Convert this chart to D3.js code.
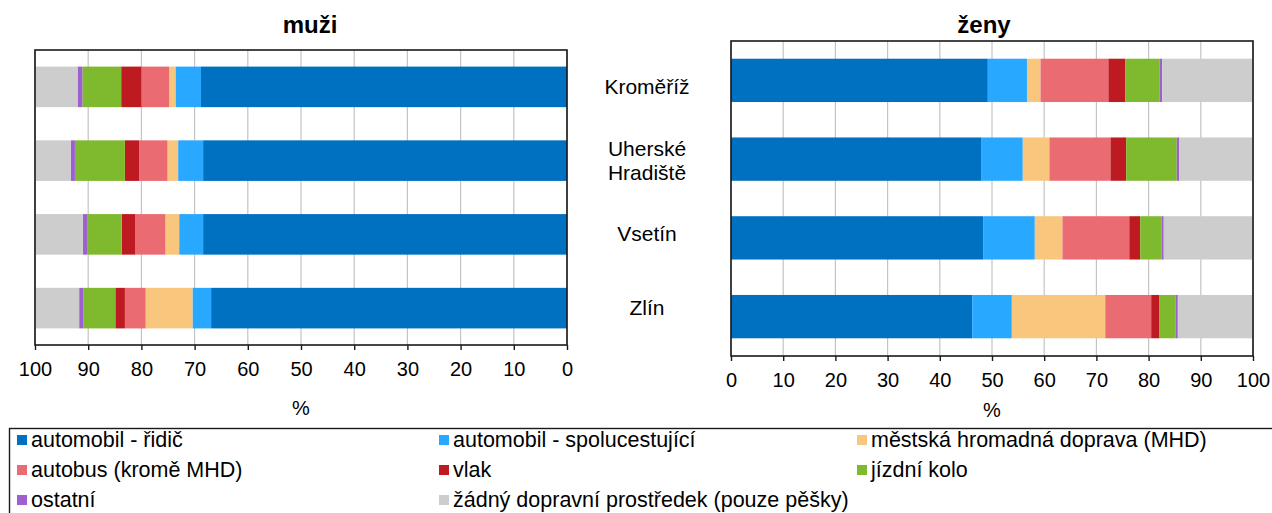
<!DOCTYPE html>
<html>
<head>
<meta charset="utf-8">
<script src="https://cdn.jsdelivr.net/npm/d3@7"></script>
<style>
  body { margin: 0; background: #fff; }
  text { font-family: "Liberation Sans", Arial, sans-serif; fill: #000; }
</style>
</head>
<body>
<div id="chart"></div>
<script>
// categories (okresy) and transport modes
var categories = ["Kroměříž", "Uherské Hradiště", "Vsetín", "Zlín"];
var series = ["automobil - řidič", "automobil - spolucestující", "městská hromadná doprava (MHD)",
  "autobus (kromě MHD)", "vlak", "jízdní kolo", "ostatní", "žádný dopravní prostředek (pouze pěšky)"];
var colors = ["#0070c0", "#29a8ff", "#f9c67d", "#eb6b73", "#be1a21", "#7fb92e", "#9e5fcf", "#cdcdcd"];

// % per category, in order of series
var muzi = [
  [68.8, 4.8, 1.2, 5.2, 3.8, 7.3, 0.9, 8.0],
  [68.4, 4.7, 2.0, 5.3, 2.7, 9.4, 0.8, 6.7],
  [68.4, 4.5, 2.6, 5.7, 2.5, 6.5, 0.8, 9.0],
  [66.9, 3.5, 8.8, 3.9, 1.8, 6.0, 0.8, 8.3]
];
var zeny = [
  [49.2, 7.5, 2.6, 13.0, 3.2, 6.6, 0.5, 17.4],
  [47.9, 8.0, 5.1, 11.7, 3.0, 9.7, 0.5, 14.1],
  [48.3, 9.9, 5.3, 12.8, 2.1, 4.1, 0.4, 17.1],
  [46.2, 7.6, 17.9, 8.8, 1.5, 3.2, 0.4, 14.4]
];
var ticks = [0, 10, 20, 30, 40, 50, 60, 70, 80, 90, 100];

var svg = d3.select("#chart").append("svg")
  .attr("width", 1272)
  .attr("height", 513);

function toRows(vals) {
  return vals.map(function(v, i) {
    var row = { cat: categories[i] };
    series.forEach(function(s, j) { row[s] = v[j]; });
    return row;
  });
}

function drawPanel(opt) {
  var x = d3.scaleLinear().domain(opt.domain).range([opt.left, opt.right]);
  var y = d3.scaleBand().domain(categories).range([opt.top, opt.bottom]).paddingInner(0.45).paddingOuter(0.225);
  var g = svg.append("g");

  // gridlines
  g.selectAll(".grid").data(ticks).enter().append("line")
    .attr("x1", function(d) { return x(d); })
    .attr("x2", function(d) { return x(d); })
    .attr("y1", opt.top).attr("y2", opt.bottom)
    .attr("stroke", "#c4c4c4").attr("stroke-width", 1.2);

  var stacked = d3.stack().keys(series)(toRows(opt.data));
  g.selectAll(".layer").data(stacked).enter().append("g")
    .attr("fill", function(d, i) { return colors[i]; })
    .selectAll("rect").data(function(d) { return d; }).enter().append("rect")
      .attr("x", function(d) { return Math.min(x(d[0]), x(d[1])); })
      .attr("width", function(d) { return Math.abs(x(d[1]) - x(d[0])); })
      .attr("y", function(d) { return y(d.data.cat); })
      .attr("height", y.bandwidth());

  // frame
  g.append("rect")
    .attr("x", opt.left).attr("y", opt.top)
    .attr("width", opt.right - opt.left).attr("height", opt.bottom - opt.top)
    .attr("fill", "none").attr("stroke", "#1a1a1a").attr("stroke-width", 1.6);

  var ax = g.append("g")
    .attr("transform", "translate(0," + opt.bottom + ")")
    .call(d3.axisBottom(x).tickValues(ticks).tickSize(5).tickPadding(12));
  ax.select(".domain").remove();
  ax.selectAll("line").attr("stroke", "#1a1a1a").attr("stroke-width", 1.4);
  ax.selectAll("text").style("font-size", "20px").attr("fill", "#000");

  g.append("text").attr("x", (opt.left + opt.right) / 2).attr("y", opt.pctY)
    .attr("text-anchor", "middle").style("font-size", "20px").text("%");
  g.append("text").attr("x", opt.titleX).attr("y", 33)
    .attr("text-anchor", "middle").style("font-size", "24px").style("font-weight", "bold").text(opt.title);
  return y;
}

var yL = drawPanel({ data: muzi, domain: [100, 0], left: 35, right: 567, top: 50, bottom: 345,
  title: "muži", titleX: 310, pctY: 415 });
drawPanel({ data: zeny, domain: [0, 100], left: 731, right: 1253, top: 41, bottom: 356,
  title: "ženy", titleX: 984, pctY: 417 });

// category labels between the two panels
var catLabels = svg.append("g").selectAll("text").data(categories).enter().append("text")
  .attr("text-anchor", "middle")
  .style("font-size", "21px")
  .attr("transform", function(d) { return "translate(647," + (yL(d) + yL.bandwidth() / 2) + ")"; });
catLabels.each(function(d) {
  var words = d.split(" ");
  var t = d3.select(this);
  words.forEach(function(w, i) {
    t.append("tspan").attr("x", 0)
      .attr("y", 7 + (i - (words.length - 1) / 2) * 24)
      .text(w);
  });
});

// legend
var legX = [17, 439, 857];
var legY = [447, 477, 507];
svg.append("rect").attr("x", 9.5).attr("y", 428.5).attr("width", 1270).attr("height", 120)
  .attr("fill", "none").attr("stroke", "#1a1a1a").attr("stroke-width", 1.4);
var leg = svg.append("g").selectAll("g").data(series).enter().append("g")
  .attr("transform", function(d, i) { return "translate(" + legX[i % 3] + "," + legY[Math.floor(i / 3)] + ")"; });
leg.append("rect").attr("x", 0).attr("y", -12).attr("width", 10).attr("height", 10)
  .attr("fill", function(d, i) { return colors[i]; });
leg.append("text").attr("x", 14).attr("y", 0).style("font-size", "21.5px").text(function(d) { return d; });
</script>
</body>
</html>
